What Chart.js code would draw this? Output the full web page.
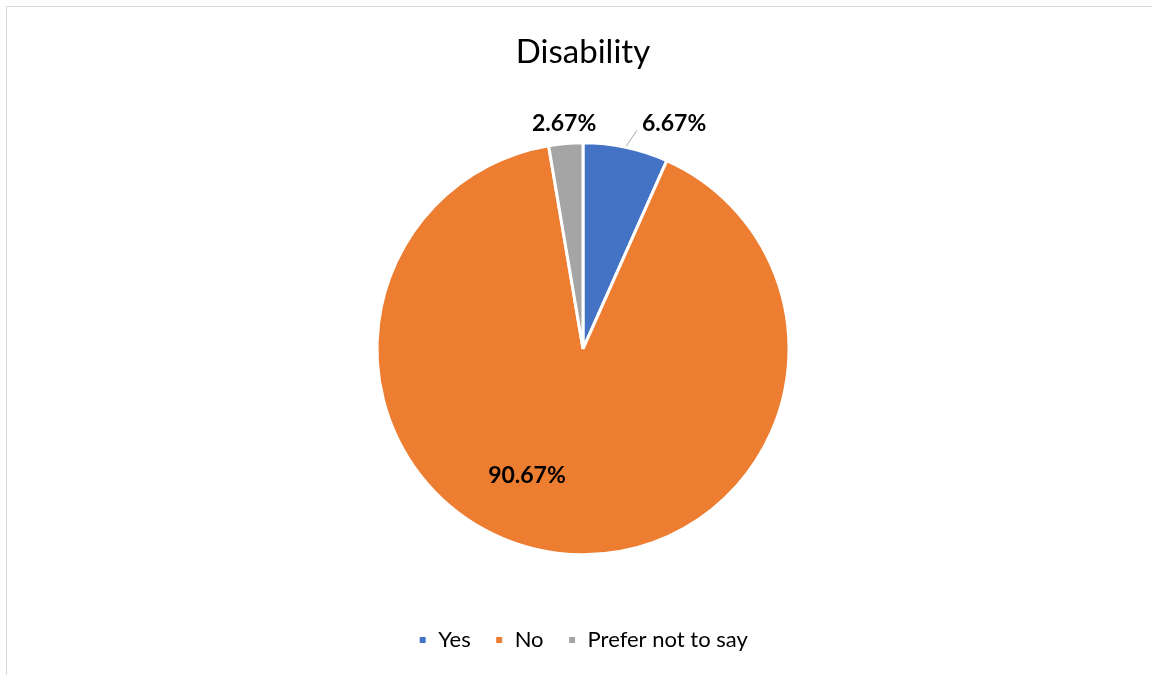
<!DOCTYPE html>
<html>
<head>
<meta charset="utf-8">
<script src="https://cdn.jsdelivr.net/npm/chart.js@4.4.0/dist/chart.umd.min.js"></script>
<style>
    html, body { margin: 0; padding: 0; background: #fff; overflow: hidden; }
    body { width: 1152px; height: 675px; position: relative; }
    #frame {
        position: absolute; left: 6px; top: 6px;
        width: 1152px; height: 680px;
        border: 1px solid #d9d9d9; box-sizing: border-box; background: #fff;
    }
    #frame canvas { position: absolute; left: 0; top: 0; }
</style>
</head>
<body>
<div id="frame"><canvas id="pieChart" width="1152" height="680"></canvas></div>
<script>
// Chart data
const categories = ['Yes', 'No', 'Prefer not to say'];
const percentages = [6.67, 90.67, 2.67];
const sliceColors = ['#4472C4', '#ED7D31', '#A5A5A5'];

const FONT = "Lato, 'Open Sans', Calibri, sans-serif";

// Draws the percentage labels (and the leader line for the small slice)
const sliceLabels = {
    id: 'sliceLabels',
    afterDatasetsDraw(chart, args, opts) {
        const ctx = chart.ctx;
        const meta = chart.getDatasetMeta(0);
        ctx.save();
        ctx.font = 'bold 23px ' + FONT;
        ctx.fillStyle = '#000';
        ctx.textAlign = 'center';
        ctx.textBaseline = 'middle';
        meta.data.forEach((arc, i) => {
            const place = opts.placement[i];
            const mid = (arc.startAngle + arc.endAngle) / 2;
            const a = mid + place.shift * Math.PI / 180;
            const r = arc.outerRadius * place.dist;
            const x = arc.x + Math.cos(a) * r;
            const y = arc.y + Math.sin(a) * r;
            const text = percentages[i].toFixed(2) + '%';
            ctx.fillText(text, x, y);
            if (place.leader) {
                const w = ctx.measureText(text).width;
                ctx.strokeStyle = '#a6a6a6';
                ctx.lineWidth = 1;
                ctx.beginPath();
                ctx.moveTo(arc.x + Math.cos(mid) * (arc.outerRadius + 1), arc.y + Math.sin(mid) * (arc.outerRadius + 1));
                ctx.lineTo(x - w / 2 - 5, y + 7);
                ctx.stroke();
            }
        });
        ctx.restore();
    }
};

const ctx = document.getElementById('pieChart').getContext('2d');
new Chart(ctx, {
    type: 'pie',
    data: {
        labels: categories,
        datasets: [{
            data: percentages,
            backgroundColor: sliceColors,
            borderColor: '#ffffff',
            borderWidth: 3
        }]
    },
    options: {
        responsive: false,
        animation: false,
        radius: 206,
        layout: { padding: { bottom: 26 } },
        plugins: {
            title: {
                display: true,
                text: 'Disability',
                color: '#000',
                font: { family: FONT, size: 33, weight: 'normal' },
                padding: { top: 26, bottom: 20 }
            },
            legend: {
                position: 'bottom',
                labels: {
                    color: '#000',
                    font: { family: FONT, size: 22 },
                    boxWidth: 9,
                    boxHeight: 9,
                    padding: 24
                }
            },
            tooltip: { enabled: false },
            sliceLabels: {
                placement: [
                    { dist: 1.18, shift: 10, leader: true },
                    { dist: 0.674, shift: 16.6 },
                    { dist: 1.097, shift: 0 }
                ]
            }
        }
    },
    plugins: [sliceLabels]
});
</script>
</body>
</html>
